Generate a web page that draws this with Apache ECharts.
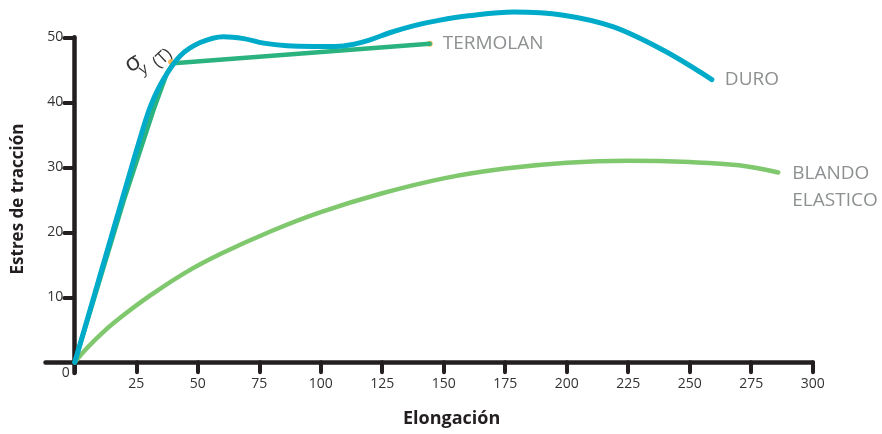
<!DOCTYPE html>
<html>
<head>
<meta charset="utf-8">
<script src="https://cdn.jsdelivr.net/npm/echarts@6/dist/echarts.min.js"></script>
<style>
html,body{margin:0;padding:0;background:#fff;}
#chart{width:882px;height:434px;}
</style>
</head>
<body>
<div id="chart"></div>
<script>
// ---- data ----
const xTicks = [25, 50, 75, 100, 125, 150, 175, 200, 225, 250, 275, 300];
const yTicks = [10, 20, 30, 40, 50];
const duro = [[0,0],[10,13],[20,26],[27,35],[31,39.6],[36,43.5],[43,47.2],[51,49.2],[60.5,50.1],[68.7,49.8],[76.8,49.1],[86.3,48.7],[97.1,48.6],[106,48.6],[113,48.9],[120,49.6],[128,50.7],[138,51.8],[148,52.6],[160,53.3],[178.4,53.9],[198.7,53.4],[219,51.6],[239.3,48],[259,43.5]];
const termolan = [[0,0],[20,25],[32,38.8],[37.5,44.5],[40.2,46],[144.3,49]];
const blando = [[0,0],[5,2.2],[12,4.8],[20,7.3],[30,10.1],[45,13.8],[60,16.8],[80,20.2],[100,23.1],[125,26],[150,28.3],[175,29.8],[200,30.7],[225,31],[250,30.8],[270,30.3],[286,29.2]];
const puntos = [[39.2,46.2],[144.3,49]];
const names = {duro: 'DURO', termolan: 'TERMOLAN', blando: 'BLANDO\nELASTICO'};

const chart = echarts.init(document.getElementById('chart'));
const axisColor = '#231f20';
const labelGray = '#8d9091';
const FONT = '"Open Sans", sans-serif';

chart.setOption({
  animation: false,
  backgroundColor: '#fff',
  grid: {left: 45.5, right: 69.3, top: 37.3, bottom: 61},
  xAxis: {
    type: 'value', min: -11.9, max: 300, offset: -10.7,
    axisLine: {onZero: false, lineStyle: {color: axisColor, width: 4.5, cap: 'round'}},
    axisTick: {customValues: [0].concat(xTicks), length: 10, lineStyle: {color: axisColor, width: 4, cap: 'round'}},
    axisLabel: {customValues: xTicks, margin: 15, color: '#333', fontSize: 14, fontFamily: FONT},
    splitLine: {show: false}
  },
  yAxis: {
    type: 'value', min: -1.65, max: 50, offset: -28.8,
    axisLine: {onZero: false, lineStyle: {color: axisColor, width: 4.5, cap: 'round'}},
    axisTick: {customValues: yTicks, length: 10, lineStyle: {color: axisColor, width: 4, cap: 'round'}},
    axisLabel: {customValues: yTicks, margin: 11, color: '#333', fontSize: 14, fontFamily: FONT},
    splitLine: {show: false}
  },
  series: [
    {
      name: names.blando, type: 'line', data: blando, smooth: 0.4, symbol: 'none', clip: false,
      lineStyle: {color: '#80c86e', width: 4.5, cap: 'round'},
      endLabel: {show: true, formatter: names.blando, distance: 14, offset: [0, 15], color: labelGray, fontSize: 19, lineHeight: 27, fontFamily: FONT}
    },
    {
      name: names.termolan, type: 'line', data: termolan, smooth: false, symbol: 'none', clip: false,
      lineStyle: {color: '#2ab27f', width: 4.5, cap: 'round'},
      endLabel: {show: true, formatter: names.termolan, distance: 13, offset: [0, 0], color: labelGray, fontSize: 19, fontFamily: FONT}
    },
    {
      type: 'scatter', data: puntos, symbolSize: 6, clip: false,
      itemStyle: {color: '#f4a52a'}
    },
    {
      name: names.duro, type: 'line', data: duro, smooth: 0.35, symbol: 'none', clip: false,
      lineStyle: {color: '#00abc9', width: 5, cap: 'round'},
      endLabel: {show: true, formatter: names.duro, distance: 13, offset: [0, 0], color: labelGray, fontSize: 19, fontFamily: FONT}
    }
  ]
});

const o = chart.convertToPixel({gridIndex: 0}, [0, 0]);
const a = chart.convertToPixel({gridIndex: 0}, [23.5, 46]);
const annStyle = {fill: '#333', fontFamily: FONT, align: 'center', verticalAlign: 'middle'};
chart.setOption({
  graphic: [
    {type: 'text', left: 403, top: 410, style: {text: 'Elongación', fontSize: 18, fontWeight: 'bold', fill: '#231f20', fontFamily: FONT}},
    {type: 'text', x: 18, y: 199, rotation: Math.PI / 2, style: {text: 'Estres de tracción', fontSize: 17, fontWeight: 'bold', fill: '#231f20', fontFamily: FONT, align: 'center', verticalAlign: 'middle'}},
    {type: 'text', x: o[0] - 9, y: o[1] + 11, style: {text: '0', fontSize: 14, fill: '#333', fontFamily: FONT, align: 'center', verticalAlign: 'middle'}},
    {type: 'text', x: a[0], y: a[1], rotation: 0.55, style: Object.assign({text: 'σ', fontSize: 24}, annStyle)},
    {type: 'text', x: a[0] + 11, y: a[1] + 6, rotation: 0.55, style: Object.assign({text: 'y', fontSize: 15}, annStyle)},
    {type: 'text', x: a[0] + 30, y: a[1] - 5, rotation: 0.75, style: Object.assign({text: '(T)', fontSize: 17}, annStyle)}
  ]
});
</script>
</body>
</html>
